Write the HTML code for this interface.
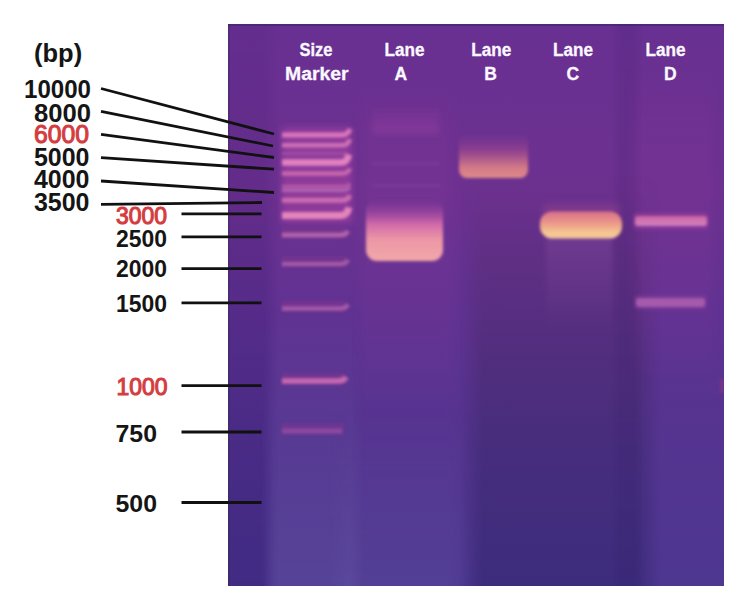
<!DOCTYPE html>
<html><head><meta charset="utf-8">
<style>
html,body{margin:0;padding:0;background:#fff;width:740px;height:598px;overflow:hidden}
svg{display:block}
#gel{position:absolute;left:228px;top:24px;width:496px;height:562px;overflow:hidden;
 background:linear-gradient(to bottom,#683092 0%,#6d3190 30%,#613292 50%,#553490 72%,#4d3790 100%)}
#gel div{position:absolute}
.m-h{-webkit-mask-image:linear-gradient(to right,transparent 0,#000 var(--e,12px),#000 calc(100% - var(--e,12px)),transparent 100%);mask-image:linear-gradient(to right,transparent 0,#000 var(--e,12px),#000 calc(100% - var(--e,12px)),transparent 100%)}
#ov{position:absolute;left:0;top:0}

text{font-family:"Liberation Sans",sans-serif;font-weight:bold}
</style></head><body>
<div id="gel">
  <div class="m-h" style="--e:14px;left:-14px;top:0;width:64px;height:562px;background:linear-gradient(to bottom,rgba(32,10,96,.06),rgba(32,10,96,.16) 50%,rgba(32,10,96,.26))"></div>
  <div class="m-h" style="--e:14px;left:32px;top:280px;width:104px;height:282px;background:linear-gradient(to bottom,rgba(140,140,200,0),rgba(140,140,200,.15))"></div>
  <div class="m-h" style="--e:30px;left:100px;top:380px;width:150px;height:182px;background:linear-gradient(to bottom,rgba(140,140,200,0),rgba(140,140,200,.1))"></div>
  <div class="m-h" style="--e:16px;left:124px;top:60px;width:110px;height:360px;background:linear-gradient(to bottom,rgba(160,64,160,.0),rgba(160,64,160,.1) 15%,rgba(160,64,160,.1) 60%,rgba(160,64,160,0))"></div>
  <div class="m-h" style="--e:22px;left:232px;top:150px;width:200px;height:412px;background:linear-gradient(to bottom,rgba(40,28,20,0),rgba(40,28,20,.1) 22%,rgba(36,24,40,.18) 45%,rgba(24,20,80,.3))"></div>
  <div class="m-h" style="--e:8px;left:314px;top:212px;width:74px;height:100px;background:linear-gradient(to bottom,rgba(192,128,208,.14),rgba(192,128,208,0))"></div>
  <div style="left:-1px;top:0;width:3px;height:562px;background:rgba(50,40,80,.3)"></div>
  <div style="left:492px;top:355px;width:4px;height:14px;background:rgba(200,60,110,.3);filter:blur(1.5px)"></div>
  <div class="m-h" style="--e:14px;left:396px;top:40px;width:96px;height:320px;background:linear-gradient(to bottom,rgba(150,60,160,0),rgba(150,60,160,.14) 20%,rgba(150,60,160,.12) 70%,rgba(150,60,160,0))"></div>
  <div class="m-h" style="--e:8px;left:384px;top:0;width:30px;height:562px;background:rgba(30,10,80,.08)"></div>
  <div style="left:0;top:0;width:496px;height:2px;background:rgba(58,32,96,.5)"></div>
</div>
<svg id="ov" width="740" height="598" viewBox="0 0 740 598">
<defs>
  <linearGradient id="gBase" gradientUnits="userSpaceOnUse" x1="0" y1="24" x2="0" y2="586">
    <stop offset="0" stop-color="#66309a"/>
    <stop offset="0.3" stop-color="#6a3198"/>
    <stop offset="0.5" stop-color="#603298"/>
    <stop offset="0.72" stop-color="#533298"/>
    <stop offset="1" stop-color="#4b3496"/>
  </linearGradient>
  <linearGradient id="gLeft" gradientUnits="userSpaceOnUse" x1="0" y1="24" x2="0" y2="586">
    <stop offset="0" stop-color="#200a60" stop-opacity="0.10"/>
    <stop offset="0.5" stop-color="#200a60" stop-opacity="0.22"/>
    <stop offset="1" stop-color="#200a60" stop-opacity="0.25"/>
  </linearGradient>
  <linearGradient id="gMarkLight" gradientUnits="userSpaceOnUse" x1="0" y1="300" x2="0" y2="586">
    <stop offset="0" stop-color="#9088d8" stop-opacity="0"/>
    <stop offset="1" stop-color="#9088d8" stop-opacity="0.22"/>
  </linearGradient>
  <linearGradient id="gDark" gradientUnits="userSpaceOnUse" x1="0" y1="190" x2="0" y2="586">
    <stop offset="0" stop-color="#141450" stop-opacity="0"/>
    <stop offset="0.35" stop-color="#141450" stop-opacity="0.28"/>
    <stop offset="1" stop-color="#141450" stop-opacity="0.38"/>
  </linearGradient>
  <linearGradient id="gCsmear" gradientUnits="userSpaceOnUse" x1="0" y1="236" x2="0" y2="360">
    <stop offset="0" stop-color="#c080d0" stop-opacity="0.25"/>
    <stop offset="1" stop-color="#c080d0" stop-opacity="0"/>
  </linearGradient>
  <linearGradient id="gAcol" gradientUnits="userSpaceOnUse" x1="0" y1="90" x2="0" y2="400">
    <stop offset="0" stop-color="#a040a0" stop-opacity="0.08"/>
    <stop offset="0.6" stop-color="#a040a0" stop-opacity="0.1"/>
    <stop offset="1" stop-color="#a040a0" stop-opacity="0"/>
  </linearGradient>
  <linearGradient id="gA" x1="0" y1="0" x2="0" y2="1">
    <stop offset="0" stop-color="#8a3a9c" stop-opacity="0"/>
    <stop offset="0.14" stop-color="#9a42a0" stop-opacity="0.5"/>
    <stop offset="0.4" stop-color="#d068a8"/>
    <stop offset="0.65" stop-color="#ec96a6"/>
    <stop offset="1" stop-color="#f2a8a8"/>
  </linearGradient>
  <linearGradient id="gA0" x1="0" y1="0" x2="0" y2="1">
    <stop offset="0" stop-color="#a040a0" stop-opacity="0"/>
    <stop offset="1" stop-color="#a844a4" stop-opacity="0.4"/>
  </linearGradient>
  <linearGradient id="gB" x1="0" y1="0" x2="0" y2="1">
    <stop offset="0" stop-color="#8a3a92" stop-opacity="0"/>
    <stop offset="0.35" stop-color="#94428f" stop-opacity="0.8"/>
    <stop offset="0.75" stop-color="#d27888"/>
    <stop offset="1" stop-color="#de8a88"/>
  </linearGradient>
  <linearGradient id="gC" x1="0" y1="0" x2="0" y2="1">
    <stop offset="0" stop-color="#d8708a"/>
    <stop offset="0.4" stop-color="#ea9488"/>
    <stop offset="0.8" stop-color="#f5c890"/>
    <stop offset="1" stop-color="#f5c8a0"/>
  </linearGradient>
  <linearGradient id="gD1" x1="0" y1="0" x2="0" y2="1">
    <stop offset="0" stop-color="#cc64a0"/>
    <stop offset="0.5" stop-color="#d074b0"/>
    <stop offset="1" stop-color="#cc80c4"/>
  </linearGradient>
  <filter id="b1" x="-20%" y="-100%" width="140%" height="300%"><feGaussianBlur stdDeviation="1.1"/></filter>
  <filter id="b15" x="-20%" y="-100%" width="140%" height="300%"><feGaussianBlur stdDeviation="1.5"/></filter>
  <filter id="b17" x="-20%" y="-100%" width="140%" height="300%"><feGaussianBlur stdDeviation="1.7"/></filter>
  <filter id="b2" x="-20%" y="-100%" width="140%" height="300%"><feGaussianBlur stdDeviation="1.8"/></filter>
  <filter id="b3" x="-30%" y="-50%" width="160%" height="200%"><feGaussianBlur stdDeviation="3"/></filter>
  <filter id="b6" x="-30%" y="-30%" width="160%" height="160%"><feGaussianBlur stdDeviation="7"/></filter>
</defs>

<!-- marker lane bands -->
<g fill="none" stroke-linecap="butt">
  <rect x="282" y="127" width="70" height="96" fill="#9a3c9e" opacity="0.75" filter="url(#b3)"/>
  <g fill="#80358f" opacity="0.5" filter="url(#b2)">
    <rect x="282" y="227" width="65" height="11"/>
    <rect x="282" y="256" width="65" height="11"/>
    <rect x="282" y="300.5" width="65" height="11"/>
    <rect x="282" y="373" width="63" height="11"/>
    <rect x="282" y="423" width="62" height="11"/>
  </g>
  <g filter="url(#b17)">
    <path d="M282 135 H342 Q348 135 350 129" stroke="#da76bc" stroke-width="4.8"/>
    <path d="M282 145.2 H342 Q348 145.2 350 139.2" stroke="#d070b4" stroke-width="4.5"/>
    <path d="M282 153.5 H347" stroke="#a04ea6" stroke-width="3"/>
    <path d="M282 162.6 H341 Q347 162.6 349 154.6" stroke="#e282c0" stroke-width="6.5"/>
    <path d="M282 173.5 H342 Q348 173.5 350 168.5" stroke="#c868ae" stroke-width="4.5"/>
    <path d="M282 186.5 H342 Q348 186.5 350 183.5" stroke="#b45aa8" stroke-width="3.5"/>
    <path d="M282 190.5 H342 Q348 190.5 350 187.5" stroke="#b466b6" stroke-width="3"/>
    <path d="M282 200.3 H342 Q348 200.3 350 195.3" stroke="#cc6cb2" stroke-width="5"/>
    <path d="M282 215.5 H341 Q347 215.5 349 207.5" stroke="#e484bc" stroke-width="7"/>
    <path d="M282 235 H340 Q346 235 348 231" stroke="#b464ac" stroke-width="4.5"/>
    <path d="M282 264 H340 Q346 264 348 260" stroke="#a65ca8" stroke-width="4.2"/>
    <path d="M282 308.5 H340 Q346 308.5 348 304.5" stroke="#aa5caa" stroke-width="4.2"/>
    <path d="M282 381 H338 Q344 381 346 377" stroke="#c868b0" stroke-width="5.5"/>
    <path d="M282 431 H342" stroke="#8c48a2" stroke-width="5"/>
  </g>
</g>

<!-- lane A -->
<rect x="372" y="104" width="67" height="30" rx="3" fill="url(#gA0)" filter="url(#b3)"/>
<rect x="366" y="199" width="77" height="62" rx="11" fill="url(#gA)" filter="url(#b2)"/>
<g filter="url(#b15)" opacity="0.12"><rect x="372" y="162" width="68" height="3" fill="#b070c0"/><rect x="372" y="184" width="68" height="3" fill="#b070c0"/></g>
<!-- lane B -->
<rect x="459" y="134" width="69" height="44" rx="8" fill="url(#gB)" filter="url(#b2)"/>
<!-- lane C -->
<rect x="542" y="203" width="78" height="16" rx="6" fill="#a04890" opacity="0.35" filter="url(#b3)"/>
<rect x="540" y="211.5" width="82" height="27" rx="12" fill="url(#gC)" filter="url(#b2)"/>
<!-- lane D -->
<rect x="633" y="212" width="76" height="18" rx="4" fill="#9a3a9c" opacity="0.45" filter="url(#b2)"/>
<rect x="635" y="216" width="72" height="10" rx="3" fill="url(#gD1)" filter="url(#b15)"/>
<rect x="634" y="294" width="73" height="16" rx="4" fill="#8a3a9c" opacity="0.35" filter="url(#b2)"/>
<rect x="636" y="298" width="69" height="9" rx="3" fill="#a65aac" filter="url(#b15)"/>

<!-- lane labels -->
<g fill="#fbf8ff" stroke="#fbf8ff" stroke-width="0.3" font-size="17.5">
  <text x="299.5" y="55.5" textLength="33" lengthAdjust="spacingAndGlyphs">Size</text>
  <text x="285" y="79.5" textLength="63.5" lengthAdjust="spacingAndGlyphs">Marker</text>
  <text x="384.5" y="55.5" textLength="40" lengthAdjust="spacingAndGlyphs">Lane</text>
  <text x="394.5" y="79.5">A</text>
  <text x="471.3" y="55.5" textLength="40" lengthAdjust="spacingAndGlyphs">Lane</text>
  <text x="484.3" y="79.5">B</text>
  <text x="553" y="55.5" textLength="40" lengthAdjust="spacingAndGlyphs">Lane</text>
  <text x="566.5" y="79.5">C</text>
  <text x="645.5" y="55.5" textLength="40" lengthAdjust="spacingAndGlyphs">Lane</text>
  <text x="664" y="79.5">D</text>
</g>

<!-- pointer lines -->
<g stroke="#111" stroke-width="2.8" stroke-linecap="butt">
  <path d="M101 88.5 L274 134"/>
  <path d="M101 111.3 L273 146"/>
  <path d="M101 134.3 L274 157.5"/>
  <path d="M101 157.7 L274 169.2"/>
  <path d="M101 181 L274 192.5"/>
  <path d="M101 204.3 L262 202.5"/>
  <path d="M181.5 213.8 L261.5 213.8"/>
  <path d="M181.5 236.8 L261.5 236.8"/>
  <path d="M181.5 268.6 L261.5 268.6"/>
  <path d="M181.5 302.8 L261.5 302.8"/>
  <path d="M181.5 385.6 L261.5 385.6"/>
  <path d="M181.5 432 L261.5 432"/>
  <path d="M181.5 502.5 L261.5 502.5"/>
</g>

<!-- bp labels -->
<g font-size="26" fill="#151515">
  <text x="34" y="62" font-size="25.5">(bp)</text>
  <text x="24" y="97.5" textLength="67" lengthAdjust="spacingAndGlyphs">10000</text>
  <text x="34" y="121.5" textLength="57" lengthAdjust="spacingAndGlyphs">8000</text>
  <text x="34" y="142.5" fill="#d43c40" stroke="#d43c40" stroke-width="1.1" style="font-weight:normal" textLength="55" lengthAdjust="spacingAndGlyphs">6000</text>
  <text x="34" y="165.5" textLength="55.5" lengthAdjust="spacingAndGlyphs">5000</text>
  <text x="34" y="188" textLength="55.5" lengthAdjust="spacingAndGlyphs">4000</text>
  <text x="34" y="211" textLength="55.5" lengthAdjust="spacingAndGlyphs">3500</text>
</g>
<g font-size="24" fill="#151515">
  <text x="116" y="224" fill="#d43c40" stroke="#d43c40" stroke-width="1.1" style="font-weight:normal" textLength="51" lengthAdjust="spacingAndGlyphs">3000</text>
  <text x="116" y="246.5" textLength="51" lengthAdjust="spacingAndGlyphs">2500</text>
  <text x="116" y="277" textLength="51" lengthAdjust="spacingAndGlyphs">2000</text>
  <text x="116" y="312" textLength="51" lengthAdjust="spacingAndGlyphs">1500</text>
  <text x="116.5" y="395" fill="#d43c40" stroke="#d43c40" stroke-width="1.1" style="font-weight:normal" textLength="51" lengthAdjust="spacingAndGlyphs">1000</text>
  <text x="115.5" y="442" textLength="41.5" lengthAdjust="spacingAndGlyphs">750</text>
  <text x="115.5" y="511.5" textLength="41.5" lengthAdjust="spacingAndGlyphs">500</text>
</g>
</svg>
</body></html>
